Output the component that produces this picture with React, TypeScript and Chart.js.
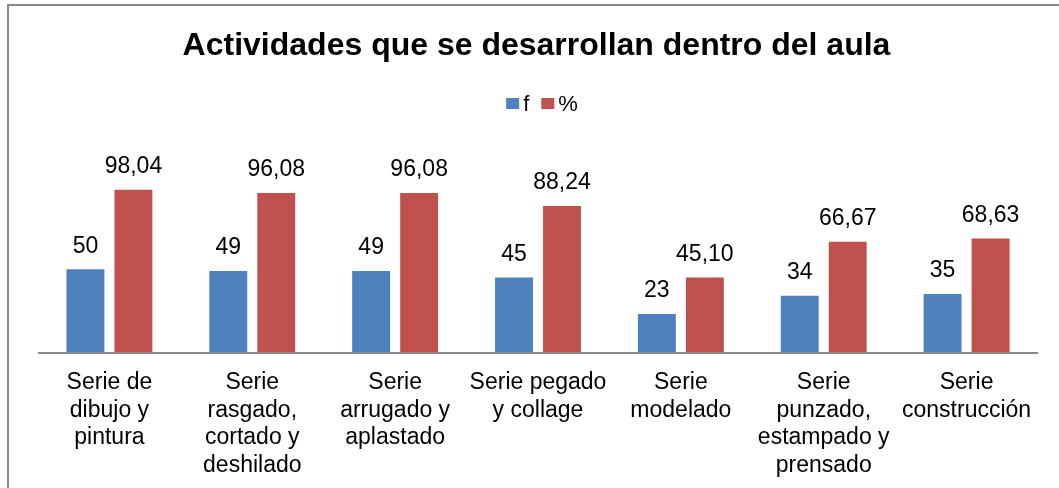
import React, { useEffect, useRef } from "react";
import { Chart, registerables } from "chart.js";

Chart.register(...registerables);

const TITLE = "Actividades que se desarrollan dentro del aula";
const CATEGORIES: string[][] = [
  ["Serie de", "dibujo y", "pintura"],
  ["Serie", "rasgado,", "cortado y", "deshilado"],
  ["Serie", "arrugado y", "aplastado"],
  ["Serie pegado", "y collage"],
  ["Serie", "modelado"],
  ["Serie", "punzado,", "estampado y", "prensado"],
  ["Serie", "construcción"],
];
const SERIES_F = [50, 49, 49, 45, 23, 34, 35];
const SERIES_PCT = [98.04, 96.08, 96.08, 88.24, 45.1, 66.67, 68.63];
const SERIES_NAMES = ["f", "%"];
const COLORS = ["#4F81BD", "#C0504D"];
const Y_MAX = 120;

const FONT = "'Liberation Sans', Arial, sans-serif";

const fmt = (v: number, decimals: number) => v.toFixed(decimals).replace(".", ",");

const decorPlugin = {
  id: "decor",
  beforeDraw(chart: any) {
    const ctx = chart.ctx;
    ctx.save();
    ctx.fillStyle = "#ffffff";
    ctx.fillRect(0, 0, chart.width, chart.height);
    ctx.strokeStyle = "#8a8a8a";
    ctx.lineWidth = 2;
    ctx.beginPath();
    ctx.moveTo(8, chart.height);
    ctx.lineTo(8, 5);
    ctx.lineTo(chart.width, 5);
    ctx.stroke();
    ctx.restore();
  },
  afterDatasetsDraw(chart: any) {
    const ctx = chart.ctx;
    const a = chart.chartArea;
    ctx.save();
    ctx.strokeStyle = "#8a8a8a";
    ctx.lineWidth = 2;
    ctx.beginPath();
    ctx.moveTo(a.left, a.bottom + 1);
    ctx.lineTo(a.right, a.bottom + 1);
    ctx.stroke();
    ctx.restore();
  },
  afterDraw(chart: any) {
    const ctx = chart.ctx;
    ctx.save();
    ctx.fillStyle = "#000";
    ctx.font = `bold 32px ${FONT}`;
    ctx.textAlign = "center";
    ctx.textBaseline = "alphabetic";
    ctx.fillText(TITLE, 536.5, 55);
    ctx.font = `22px ${FONT}`;
    ctx.textAlign = "left";
    const items = SERIES_NAMES.map((n) => ({ n, w: ctx.measureText(n).width }));
    const boxW = 13, gap = 4, itemGap = 12;
    const total = items.reduce((s, it) => s + boxW + gap + it.w, 0) + itemGap * (items.length - 1);
    let x = 542 - total / 2;
    items.forEach((it, i) => {
      ctx.fillStyle = COLORS[i];
      ctx.fillRect(x, 98, boxW, 11);
      ctx.fillStyle = "#000";
      ctx.fillText(it.n, x + boxW + gap, 111);
      x += boxW + gap + it.w + itemGap;
    });
    ctx.font = `23px ${FONT}`;
    ctx.textAlign = "center";
    ctx.textBaseline = "middle";
    ctx.fillStyle = "#000";
    chart.data.datasets.forEach((ds: any, di: number) => {
      const meta = chart.getDatasetMeta(di);
      meta.data.forEach((bar: any, i: number) => {
        const v = ds.data[i];
        const label = di === 0 ? String(v) : fmt(v, 2);
        ctx.fillText(label, bar.x, bar.y - 23);
      });
    });
    ctx.restore();
  },
};

export default function App() {
  const ref = useRef<HTMLCanvasElement>(null);
  useEffect(() => {
    document.body.style.margin = "0";
    const chart = new Chart(ref.current!, {
      type: "bar",
      data: {
        labels: CATEGORIES,
        datasets: [
          { label: SERIES_NAMES[0], data: SERIES_F, backgroundColor: COLORS[0] },
          { label: SERIES_NAMES[1], data: SERIES_PCT, backgroundColor: COLORS[1] },
        ],
      },
      options: {
        responsive: false,
        animation: false,
        devicePixelRatio: 1,
        layout: { padding: { top: 153.5, left: 38, right: 21, bottom: 0 } },
        plugins: { legend: { display: false }, title: { display: false }, tooltip: { enabled: false } },
        datasets: { bar: { categoryPercentage: 0.672, barPercentage: 0.79 } },
        scales: {
          x: {
            grid: { display: false, drawTicks: false },
            border: { display: false },
            ticks: {
              color: "#000",
              font: { family: FONT, size: 23, lineHeight: 1.2 },
              padding: 17,
              maxRotation: 0,
              autoSkip: false,
            },
            afterFit: (scale: any) => {
              scale.height = 136;
            },
          },
          y: { display: false, min: 0, max: Y_MAX },
        },
      },
      plugins: [decorPlugin],
    } as any);
    return () => chart.destroy();
  }, []);
  return (
    <div style={{ position: "fixed", left: 0, top: 0, width: 1059, height: 488, background: "#fff" }}>
      <canvas ref={ref} width={1059} height={488} style={{ width: 1059, height: 488, display: "block" }} />
    </div>
  );
}
